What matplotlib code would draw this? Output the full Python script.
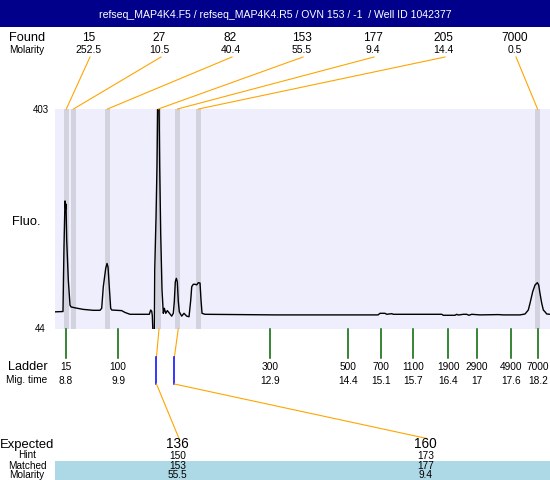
import matplotlib
matplotlib.use("Agg")
import matplotlib.pyplot as plt
from matplotlib.patches import Rectangle
from matplotlib.transforms import blended_transform_factory

plt.rcParams['font.family'] = ['Liberation Sans', 'DejaVu Sans']

title = "refseq_MAP4K4.F5 / refseq_MAP4K4.R5 / OVN 153 / -1  / Well ID 1042377"

# electropherogram: migration time (min) vs fluorescence
trace_time = [8.581, 8.740, 8.760, 8.780, 8.794, 8.800, 8.814, 8.846, 8.880, 8.900,
              9.013, 9.145, 9.344, 9.477, 9.511, 9.543, 9.591, 9.617, 9.637, 9.662,
              9.690, 9.710, 9.909, 9.975, 10.075, 10.459, 10.487, 10.507, 10.519, 10.527,
              10.539, 10.559, 10.567, 10.593, 10.612, 10.628, 10.652, 10.666, 10.686, 10.712,
              10.738, 10.758, 10.786, 10.818, 10.857, 10.905, 10.937, 10.957, 10.977, 10.997,
              11.017, 11.037, 11.057, 11.104, 11.150, 11.204, 11.250, 11.284, 11.304, 11.335,
              11.369, 11.403, 11.435, 11.469, 11.489, 11.509, 11.568, 12.963, 15.014, 15.054,
              15.153, 15.187, 15.287, 15.319, 16.283, 16.314, 16.547, 16.581, 16.613, 16.713,
              16.780, 16.826, 16.880, 17.045, 17.410, 17.509, 17.842, 17.942, 18.007, 18.041,
              18.095, 18.141, 18.187, 18.214, 18.240, 18.274, 18.306, 18.340, 18.374, 18.439]
trace_fluo = [72, 72.5, 178, 253, 240, 248, 189, 124, 83, 80,
              78, 76, 74.5, 74.5, 77.8, 113, 143, 151, 145, 113,
              77.8, 75, 74, 71, 68, 68, 75, 73, 66, 48,
              30, 30, 140, 227, 309, 420, 420, 309, 200, 107.6,
              69.6, 77.8, 69.6, 74, 70, 65, 69.6, 88.6, 121, 126.7,
              121, 88.6, 72, 65, 69.6, 65, 64, 91, 113, 117,
              117, 116, 119.6, 119, 91, 69.6, 68, 67, 67, 69.6,
              69.6, 68, 69, 68, 68, 66.4, 66.4, 68, 66.8, 68,
              68, 66.4, 68, 67, 67.5, 67, 67, 68.5, 75, 86,
              105, 115.8, 119.6, 115.8, 102, 86, 75, 72, 68.5, 68]
fluo_min, fluo_max = 44, 403

# peaks found
found_size = ["15", "27", "82", "153", "177", "205", "7000"]
found_molarity = ["252.5", "10.5", "40.4", "55.5", "9.4", "14.4", "0.5"]
found_time = [8.806, 8.949, 9.627, 10.638, 11.021, 11.439, 18.191]

# ladder
ladder_size = ["15", "100", "300", "500", "700", "1100", "1900", "2900", "4900", "7000"]
ladder_mig = ["8.8", "9.9", "12.9", "14.4", "15.1", "15.7", "16.4", "17", "17.6", "18.2"]
ladder_time = [8.8, 9.836, 12.863, 14.416, 15.073, 15.711, 16.408, 16.986, 17.663, 18.2]

# expected fragments and their matches
expected_size = ["136", "160"]
expected_time = [10.602, 10.959]
hint_size = ["150", "173"]
matched_size = ["153", "177"]
matched_molarity = ["55.5", "9.4"]

ORANGE = '#FFA500'

fig = plt.figure(figsize=(5.5, 4.8), dpi=100)
ax = fig.add_axes([55 / 550, (480 - 329) / 480, 495 / 550, 220 / 480])
ax.set_facecolor('#EEEEFC')
ax.set_xlim(8.581, 18.439)
ax.set_ylim(fluo_min, fluo_max)
for s in ax.spines.values():
    s.set_visible(False)
ax.set_xticks([])
ax.set_yticks([])

for t in found_time:
    ax.axvspan(t - 0.047, t + 0.047, color='#D3D3E0', lw=0)
ax.plot(trace_time, trace_fluo, color='black', lw=1.0)

# overlay in pixel coordinates for the annotation rows
ov = fig.add_axes([0, 0, 1, 1])
ov.set_xlim(0, 550)
ov.set_ylim(480, 0)
ov.axis('off')
trans = blended_transform_factory(ax.transData, ov.transData)


def to_px(t):
    return ov.transData.inverted().transform(ax.transData.transform((t, fluo_min)))[0]


# title bar
ov.add_patch(Rectangle((0, 0), 550, 27, color='#00008B', lw=0))
ov.text(275, 18.5, title, color='white', fontsize=7.6, ha='center', va='baseline')

# found row
ov.text(27, 41.4, "Found", fontsize=9.2, ha='center', va='baseline')
ov.text(27, 52.8, "Molarity", fontsize=7.2, ha='center', va='baseline')
for i, (s, m, t) in enumerate(zip(found_size, found_molarity, found_time)):
    xl = 88.5 + 71 * i
    ov.text(xl, 41.4, s, fontsize=8.6, ha='center', va='baseline')
    ov.text(xl, 53, m, fontsize=7.5, ha='center', va='baseline')
    ov.plot([xl + 1.5, to_px(t)], [57, 109], color=ORANGE, lw=0.8)

# y labels
ov.text(40.5, 113.3, str(fluo_max), fontsize=7, ha='center', va='baseline')
ov.text(40.5, 332.5, str(fluo_min), fontsize=7, ha='center', va='baseline')
ov.text(12, 225, "Fluo.", fontsize=9.3, ha='left', va='baseline')

# ladder row
ov.text(27.5, 370, "Ladder", fontsize=9.2, ha='center', va='baseline')
ov.text(27, 383.3, "Mig. time", fontsize=7.3, ha='center', va='baseline')
for s, m, t in zip(ladder_size, ladder_mig, ladder_time):
    ov.plot([t, t], [329, 358], color='#006400', lw=1.1, transform=trans)
    ov.text(t, 370, s, fontsize=7.3, ha='center', va='baseline', transform=trans)
    ov.text(t, 383.5, m, fontsize=7.3, ha='center', va='baseline', transform=trans)

# expected / matched table
ov.add_patch(Rectangle((55, 460.5), 495, 20, color='#ADD8E6', lw=0))
ov.text(27, 447.7, "Expected", fontsize=9.4, ha='center', va='baseline')
ov.text(27, 458.5, "Hint", fontsize=7.2, ha='center', va='baseline')
ov.text(27, 469, "Matched", fontsize=7.2, ha='center', va='baseline')
ov.text(27, 478.3, "Molarity", fontsize=7.2, ha='center', va='baseline')
for i, (e, et, h, ms, mm) in enumerate(zip(expected_size, expected_time, hint_size,
                                          matched_size, matched_molarity)):
    xc = 177.5 + 248 * i
    mt = found_time[found_size.index(ms)]
    ex = to_px(et)
    ov.plot([to_px(mt) + 0.7, ex], [329, 357], color=ORANGE, lw=0.8)
    ov.plot([ex, ex], [357, 384], color='#0000FF', lw=1.1)
    ov.plot([ex, xc + 1.5], [384, 438.5], color=ORANGE, lw=0.8)
    ov.text(xc, 448.5, e, fontsize=9.8, ha='center', va='baseline')
    ov.text(xc, 458.8, h, fontsize=7.3, ha='center', va='baseline')
    ov.text(xc, 469, ms, fontsize=7.3, ha='center', va='baseline')
    ov.text(xc, 478.3, mm, fontsize=7.3, ha='center', va='baseline')

fig.savefig('out.png', dpi=100)
